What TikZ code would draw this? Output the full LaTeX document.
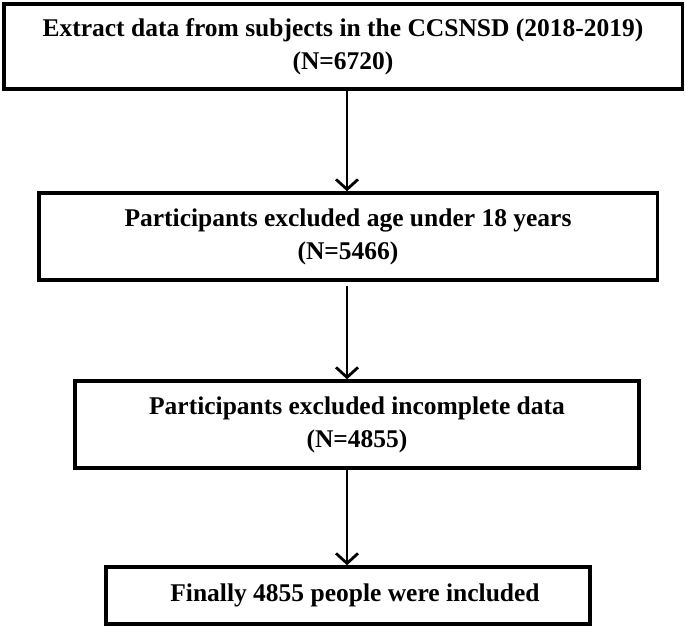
\documentclass[tikz,border=0pt]{standalone}
\usepackage{fontspec}
\setmainfont{Liberation Serif}
\usetikzlibrary{arrows.meta}
\begin{document}
\begin{tikzpicture}[x=1pt,y=-1pt,
  box/.style={draw=black, line width=3.5pt, align=center, inner sep=0pt,
    font=\fontsize{25.5}{33}\selectfont\bfseries},
  flow/.style={line width=2.8pt, -{Straight Barb[length=10pt,width=22pt,line width=2.8pt]}}]
\useasboundingbox (0,0) rectangle (685,628);
\node[box, minimum width=678.5pt, minimum height=85pt] (b1) at (343,46.5)
  {Extract data from subjects in the CCSNSD (2018-2019)\\(N=6720)};
\node[box, minimum width=618.5pt, minimum height=87pt] (b2) at (348,236.5)
  {Participants excluded age under 18 years\\(N=5466)};
\node[box, minimum width=564pt, minimum height=87pt] (b3) at (357,424.5)
  {Participants excluded incomplete data\\(N=4855)};
\node[box, minimum width=484pt, minimum height=57pt] (b4) at (348,595.5)
  {\hspace*{14pt}Finally 4855 people were included};
\coordinate (a1s) at (b1.south -| 347,0);
\coordinate (a1e) at (b2.north -| 347,0);
\coordinate (a2s) at (b2.south -| 347,0);
\coordinate (a2e) at (b3.north -| 347,0);
\coordinate (a3s) at (b3.south -| 347,0);
\coordinate (a3e) at (b4.north -| 347,0);
\draw[flow] (a1s) -- (a1e);
\draw[flow, shorten <=4pt] (a2s) -- (a2e);
\draw[flow] (a3s) -- (a3e);
\end{tikzpicture}
\end{document}
